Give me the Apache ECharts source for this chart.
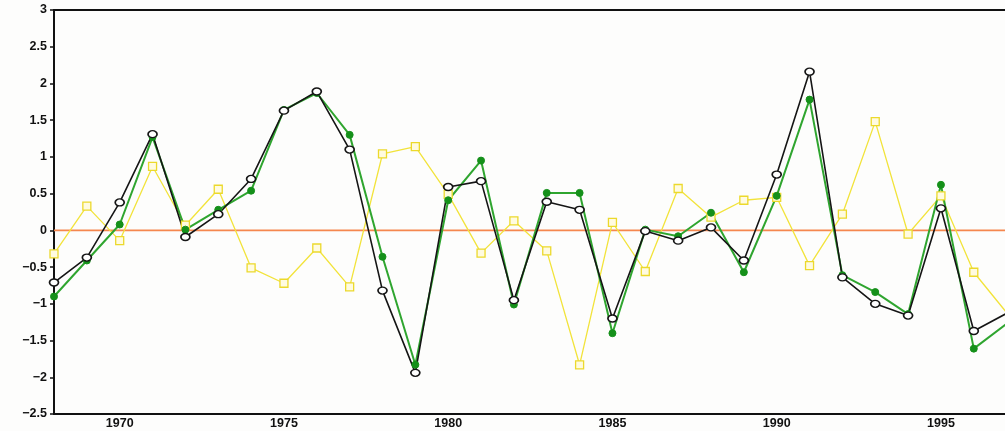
<!DOCTYPE html>
<html>
<head>
<meta charset="UTF-8">
<title></title>
<script src="https://cdn.jsdelivr.net/npm/echarts@6/dist/echarts.min.js"></script>
<style>
  html, body { margin: 0; padding: 0; background: #fdfdfc; }
  #main { width: 1005px; height: 431px; }
</style>
</head>
<body>
<div id="main"></div>
<script>
// years 1968 - 1997
var years = [];
for (var y = 1968; y <= 1997; y++) years.push(y);

var blackVals = [-0.71, -0.37, 0.38, 1.31, -0.09, 0.22, 0.70, 1.63, 1.89, 1.10,
                 -0.82, -1.94, 0.59, 0.67, -0.95, 0.39, 0.28, -1.20, -0.01, -0.14,
                 0.04, -0.41, 0.76, 2.16, -0.64, -1.00, -1.16, 0.30, -1.37, -1.13];
var greenVals = [-0.90, -0.41, 0.08, 1.27, 0.01, 0.28, 0.54, 1.64, 1.87, 1.30,
                 -0.36, -1.83, 0.41, 0.95, -1.01, 0.51, 0.51, -1.40, 0.01, -0.08,
                 0.24, -0.57, 0.47, 1.78, -0.61, -0.84, -1.14, 0.62, -1.61, -1.27];
var yellowVals = [-0.32, 0.33, -0.14, 0.87, 0.07, 0.56, -0.51, -0.72, -0.24, -0.77,
                  1.04, 1.14, 0.49, -0.31, 0.13, -0.28, -1.83, 0.11, -0.56, 0.57,
                  0.18, 0.41, 0.45, -0.48, 0.22, 1.48, -0.05, 0.47, -0.57, -1.12];
var zeroLine = [0, 0];

function pairs(vals) {
  return years.map(function (yr, i) { return [yr, vals[i]]; });
}

var chart = echarts.init(document.getElementById('main'));
var lblFont = { fontFamily: 'Liberation Sans', fontWeight: 'bold', fontSize: 12.5, color: '#111' };

chart.setOption({
  animation: false,
  grid: { left: 54, top: 10, right: 0, bottom: 17 },
  xAxis: [{
    type: 'value', min: 1968, max: 1996.95, interval: 1,
    axisLine: { onZero: false, lineStyle: { color: '#111', width: 2 } },
    axisTick: { show: false },
    splitLine: { show: false },
    axisLabel: Object.assign({
      margin: 3, showMaxLabel: false,
      formatter: function (v) { return v % 5 === 0 ? String(v) : ''; }
    }, lblFont)
  }, {
    type: 'value', position: 'top', min: 1968, max: 1996.95,
    axisLine: { show: true, onZero: false, lineStyle: { color: '#111', width: 2 } },
    axisTick: { show: false }, axisLabel: { show: false }, splitLine: { show: false }
  }],
  yAxis: {
    type: 'value', min: -2.5, max: 3, interval: 0.5,
    axisLine: { show: true, onZero: false, lineStyle: { color: '#111', width: 2 } },
    axisTick: { show: true, length: 4, lineStyle: { color: '#111', width: 1.5 } },
    splitLine: { show: false },
    axisLabel: Object.assign({
      margin: 7,
      formatter: function (v) { return String(v).replace('-', '\u2212'); }
    }, lblFont)
  },
  series: [{
    name: 'zero', type: 'line', data: [[1968, zeroLine[0]], [1997, zeroLine[1]]],
    symbol: 'none', silent: true,
    lineStyle: { color: '#f5874e', width: 1.6 }
  }, {
    name: 'yellow', type: 'line', data: pairs(yellowVals),
    symbol: 'rect', symbolSize: 8,
    lineStyle: { color: '#f2e33a', width: 1.3 },
    itemStyle: { color: '#fffbe0', borderColor: '#ecd92c', borderWidth: 1.3 }
  }, {
    name: 'green', type: 'line', data: pairs(greenVals),
    symbol: 'circle', symbolSize: 7,
    lineStyle: { color: '#2fa52f', width: 2 },
    itemStyle: { color: '#15901a', borderColor: '#15901a', borderWidth: 1 }
  }, {
    name: 'black', type: 'line', data: pairs(blackVals),
    symbol: 'circle', symbolSize: [9, 7],
    lineStyle: { color: '#151515', width: 1.6 },
    itemStyle: { color: '#ffffff', borderColor: '#151515', borderWidth: 1.5 }
  }]
});
</script>
</body>
</html>
